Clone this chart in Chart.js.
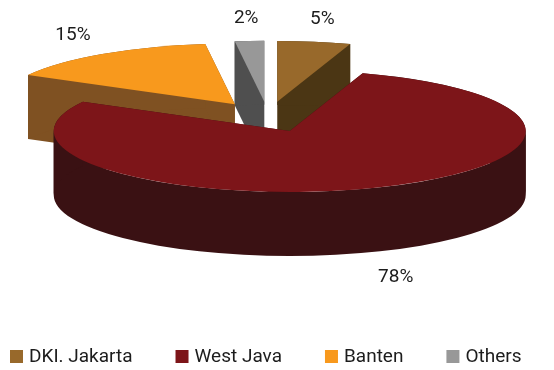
<!DOCTYPE html>
<html>
<head>
<meta charset="utf-8">
<script src="https://cdn.jsdelivr.net/npm/chart.js@4.4.1/dist/chart.umd.min.js"></script>
<style>
  html, body { margin: 0; padding: 0; background: #fff; }
  #wrap { width: 554px; height: 370px; }
</style>
</head>
<body>
<div id="wrap"><canvas id="pie"></canvas></div>
<script>
// Share by region (percent)
const regions = ['DKI. Jakarta', 'West Java', 'Banten', 'Others'];
const shares = [5, 78, 15, 2];

const topColors = ['#98692b', '#7d1519', '#f8991d', '#989898'];
const sideColors = ['#4b3614', '#3a1113', '#7f5122', '#4f4f4f'];

const FONT = '19px Roboto, "DejaVu Sans", sans-serif';
const TEXT = '#1c1c1c';

// Draws the pie as a tilted, exploded cylinder using the arc angles Chart.js computed
const pie3d = {
    id: 'pie3d',
    beforeDatasetsDraw(chart, args, opts) {
        const ctx = chart.ctx;
        const area = chart.chartArea;
        const rx = area.width / 2;
        const ry = rx * opts.tilt;
        const depth = Math.round(rx * opts.depth);
        const cx = area.left + rx;
        const cy = area.top + ry;
        const ds = chart.data.datasets[0];

        const slices = chart.getDatasetMeta(0).data.map((arc, i) => {
            const { startAngle, endAngle } = arc.getProps(['startAngle', 'endAngle'], true);
            const mid = (startAngle + endAngle) / 2;
            return {
                i, startAngle, endAngle, mid,
                ox: cx + Math.cos(mid) * opts.explode * rx,
                oy: cy + Math.sin(mid) * opts.explode * ry
            };
        });

        const rim = (s, a) => [s.ox + Math.cos(a) * rx, s.oy + Math.sin(a) * ry];

        // the two cut faces plus the curved outer wall, all in the side colour
        const drawWalls = (s) => {
            ctx.fillStyle = opts.sideColors[s.i];
            [s.startAngle, s.endAngle].forEach(a => {
                const [px, py] = rim(s, a);
                ctx.beginPath();
                ctx.moveTo(s.ox, s.oy);
                ctx.lineTo(px, py);
                ctx.lineTo(px, py + depth);
                ctx.lineTo(s.ox, s.oy + depth);
                ctx.closePath();
                ctx.fill();
            });
            // split the outer wall at the left/right extremes so no piece folds over itself
            const cuts = [s.startAngle];
            for (let k = Math.ceil(s.startAngle / Math.PI); k * Math.PI < s.endAngle; k++) {
                if (k * Math.PI > s.startAngle) cuts.push(k * Math.PI);
            }
            cuts.push(s.endAngle);
            for (let j = 0; j < cuts.length - 1; j++) {
                const a0 = cuts[j], a1 = cuts[j + 1];
                const [ex, ey] = rim(s, a1);
                ctx.beginPath();
                ctx.ellipse(s.ox, s.oy, rx, ry, 0, a0, a1);
                ctx.lineTo(ex, ey + depth);
                ctx.ellipse(s.ox, s.oy + depth, rx, ry, 0, a1, a0, true);
                ctx.closePath();
                ctx.fill();
            }
        };

        const drawTop = (s) => {
            ctx.fillStyle = ds.backgroundColor[s.i];
            ctx.beginPath();
            ctx.moveTo(s.ox, s.oy);
            ctx.ellipse(s.ox, s.oy, rx, ry, 0, s.startAngle, s.endAngle);
            ctx.closePath();
            ctx.fill();
        };

        // back slices first
        slices.slice().sort((a, b) => a.oy - b.oy).forEach(s => {
            drawWalls(s);
            drawTop(s);
        });

        chart.$pie3d = { cx, cy, rx, ry, depth, slices };
        return false;
    },
    afterDraw(chart, args, opts) {
        const ctx = chart.ctx;
        const geo = chart.$pie3d;
        if (!geo) return;
        const values = chart.data.datasets[0].data;

        ctx.save();
        ctx.font = FONT;
        ctx.fillStyle = TEXT;
        ctx.textAlign = 'center';
        ctx.textBaseline = 'middle';
        geo.slices.forEach(s => {
            const sin = Math.sin(s.mid);
            const x = s.ox + Math.cos(s.mid) * geo.rx * 1.22;
            const y = s.oy + sin * geo.ry * 1.38 + (sin > 0 ? geo.depth + 4 : 0);
            ctx.fillText(values[s.i] + '%', x, y);
        });

        // legend row along the bottom
        const colors = chart.data.datasets[0].backgroundColor;
        let x = 10;
        const y = 350;
        ctx.textAlign = 'left';
        chart.data.labels.forEach((label, i) => {
            ctx.fillStyle = colors[i];
            ctx.fillRect(x, y, 13, 13);
            ctx.fillStyle = TEXT;
            ctx.fillText(label, x + 19, y + 7.5);
            x += 19 + ctx.measureText(label).width + 43;
        });
        ctx.restore();
    }
};

new Chart(document.getElementById('pie'), {
    type: 'pie',
    data: {
        labels: regions,
        datasets: [{
            data: shares,
            backgroundColor: topColors,
            borderWidth: 0
        }]
    },
    options: {
        responsive: true,
        maintainAspectRatio: false,
        animation: false,
        layout: { padding: { left: 32, right: 50, top: 56, bottom: 128 } },
        plugins: {
            legend: { display: false },
            tooltip: { enabled: false },
            pie3d: { tilt: 0.258, depth: 0.271, explode: 0.25, sideColors: sideColors }
        }
    },
    plugins: [pie3d]
});
</script>
</body>
</html>
